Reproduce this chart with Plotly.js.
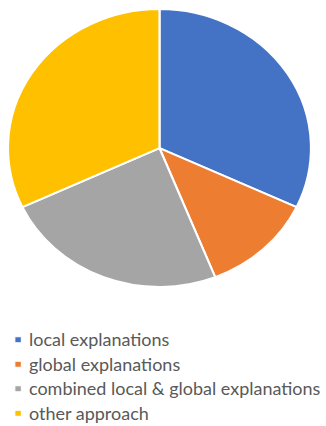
<!DOCTYPE html>
<html><head><meta charset="utf-8">
<script src="https://cdn.plot.ly/plotly-3.0.1.min.js"></script>
<style>
html,body{margin:0;padding:0;background:#fff;overflow:hidden;}
#wrap{width:326px;height:426px;overflow:hidden;}
#chart{width:299px;height:426px;transform:scaleX(1.0903);transform-origin:0 0;}
.legend .legendpoints{transform:translate(20px,0) scale(0.5);}
</style></head>
<body><div id="wrap"><div id="chart"></div></div>
<script>
const labels = ["local explanations","global explanations","combined local & global explanations","other approach"];
const values = [8,3,6,8];
const colors = ["#4472C4","#ED7D31","#A5A5A5","#FFC000"];

const data = [{
  type:"pie",
  labels:labels,
  values:values,
  sort:false,
  direction:"clockwise",
  rotation:0,
  textinfo:"none",
  hoverinfo:"label+percent",
  marker:{colors:colors, line:{color:"#ffffff", width:2}},
  domain:{x:[0.0244,0.954], y:[0.326,0.979]}
}];
const layout = {
  width:299, height:426,
  margin:{l:0,r:0,t:0,b:0,autoexpand:false},
  paper_bgcolor:"#ffffff",
  showlegend:true,
  legend:{x:-0.0448, xanchor:"left", y:0.2427, yanchor:"top",
    font:{family:"Lato, 'Open Sans', sans-serif", size:16.5, color:"#595959"},
    bgcolor:"rgba(0,0,0,0)", traceorder:"normal"}
};
Plotly.newPlot("chart", data, layout, {staticPlot:true});
</script></body></html>
